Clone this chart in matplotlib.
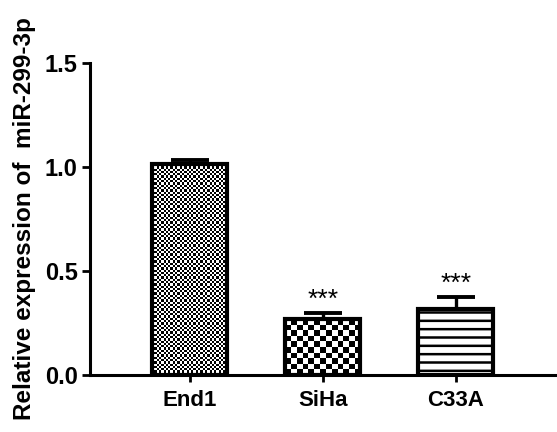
import numpy as np
import matplotlib
matplotlib.use("Agg")
import matplotlib.pyplot as plt

plt.rcParams['font.family'] = ['Liberation Sans', 'DejaVu Sans']
plt.rcParams['font.weight'] = 'bold'
plt.rcParams['hatch.linewidth'] = 1.8

categories = ["End1", "SiHa", "C33A"]
means = [1.013, 0.268, 0.316]
errors = [0.022, 0.030, 0.060]
signif = ["", "***", "***"]
y_ticks = [0.0, 0.5, 1.0, 1.5]
y_ticklabels = ["0.0", "0.5", "1.0", "1.5"]
ylabel = "Relative expression of  miR-299-3p"

fig = plt.figure(figsize=(5.57, 4.32), dpi=100)
ax = fig.add_axes([90/557, 57/432, 467/557, 312/432])

x = np.arange(len(categories))
width = 0.565
ax.set_xlim(-0.75, 2.76)
ax.set_ylim(0, 1.5)

bars = ax.bar(x, means, width=width, color='white', edgecolor='none', zorder=2)

# fill patterns
fig.canvas.draw()
cell_px = [2.3, 5.7, None]
for bar, cp in zip(bars, cell_px):
    x0, y0 = bar.get_x(), bar.get_y()
    w, h = bar.get_width(), bar.get_height()
    if cp is None:
        bar.set_hatch('--')
        bar.set_edgecolor('black')
        continue
    p0 = ax.transData.transform((x0, y0))
    p1 = ax.transData.transform((x0 + w, y0 + h))
    nx = max(1, int(round((p1[0] - p0[0]) / cp)))
    ny = max(1, int(round((p1[1] - p0[1]) / cp)))
    board = (np.add.outer(np.arange(ny), np.arange(nx)) % 2).astype(float)
    im = ax.imshow(board, cmap='gray', interpolation='nearest', aspect='auto',
                   extent=(x0, x0 + w, y0, y0 + h), origin='lower', zorder=2.5)
    im.set_clip_path(bar)
ax.set_xlim(-0.75, 2.76)
ax.set_ylim(0, 1.5)
# outlines
ax.bar(x, means, width=width, facecolor='none', edgecolor='black', linewidth=3.0, zorder=3)

ax.errorbar(x, means, yerr=[np.zeros(len(errors)), errors], fmt='none', ecolor='black',
            elinewidth=2.4, capsize=13.5, capthick=2.8, zorder=2.8)

for xi, m, e, s in zip(x, means, errors, signif):
    if s:
        ax.text(xi, m + e + 0.004, s, ha='center', va='bottom', fontsize=19, fontweight='normal')

ax.spines['top'].set_visible(False)
ax.spines['right'].set_visible(False)
ax.spines['left'].set_linewidth(2.2)
ax.spines['bottom'].set_linewidth(2.2)
ax.set_yticks(y_ticks)
ax.set_yticklabels(y_ticklabels, fontsize=17, fontweight='bold')
ax.set_xticks(x)
ax.set_xticklabels(categories, fontsize=16, fontweight='bold')
ax.tick_params(axis='y', length=6, width=2, pad=3)
ax.tick_params(axis='x', length=5, width=2, pad=6)
ax.set_ylabel(ylabel, fontsize=17.5, fontweight='bold', labelpad=6)

fig.savefig("out.png", dpi=100)
